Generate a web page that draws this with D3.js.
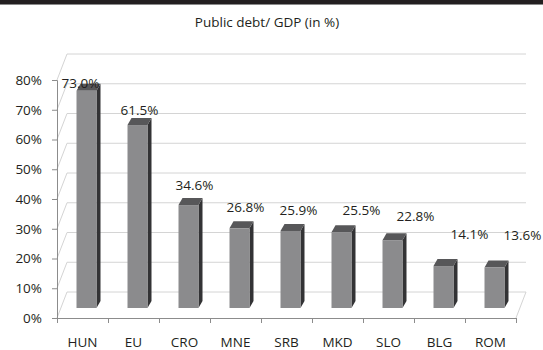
<!DOCTYPE html>
<meta charset="utf-8">
<style>
  body { margin: 0; background: #fff; }
  text { font-family: "Open Sans", "Noto Sans", sans-serif; fill: #231f20; }
</style>
<body>
<script src="https://cdnjs.cloudflare.com/ajax/libs/d3/7.8.5/d3.min.js"></script>
<script>

var categories = ["HUN", "EU", "CRO", "MNE", "SRB", "MKD", "SLO", "BLG", "ROM"];
var debt = [73.0, 61.5, 34.6, 26.8, 25.9, 25.5, 22.8, 14.1, 13.6];
var yTicks = [0, 10, 20, 30, 40, 50, 60, 70, 80];

// hand placed label offsets [dx, dy] from the top front edge of each column
var labelNudge = [[-6, -3], [2, -10], [6, -15], [6, -16], [8, -16], [20, -17], [23, -19], [26, -27], [28, -28]];

var width = 543,
    height = 350;

var svg = d3.select("body").append("svg")
    .attr("width", width)
    .attr("height", height);

// dark strip along the top edge
svg.append("rect").attr("x", 0).attr("y", 0).attr("width", width).attr("height", 4).attr("fill", "#231f20");
svg.append("rect").attr("x", 0).attr("y", 4).attr("width", width).attr("height", 1).attr("fill", "#8a8a8a");

svg.append("text")
    .attr("x", 267)
    .attr("y", 27)
    .attr("text-anchor", "middle")
    .style("font-size", "13.5px")
    .text("Public debt/ GDP (in %)");

var x = d3.scaleBand()
    .domain(categories)
    .range([57, 516]);

var y = d3.scaleLinear()
    .domain([0, 80])
    .range([318, 80]);

// depth of the box, and where the columns sit inside it
var depthX = 10, depthY = -26;
var barDX = 4, barDY = -10;
var barW = 20, sideW = 4, topH = 7;

var grid = svg.append("g")
    .attr("fill", "none")
    .attr("stroke", "#d4d4d4")
    .attr("stroke-width", 1);

// side wall diagonals and back wall gridlines
yTicks.forEach(function(t) {
    var yy = y(t);
    grid.append("path")
        .attr("d", "M" + x.range()[0] + "," + yy +
            "L" + (x.range()[0] + depthX) + "," + (yy + depthY) +
            "L" + (x.range()[1] + depthX) + "," + (yy + depthY));
});

// right edge of the floor
grid.append("path")
    .attr("d", "M" + x.range()[1] + "," + y(0) + "L" + (x.range()[1] + depthX) + "," + (y(0) + depthY));

// axes on the front edge
var axisColor = "#8c8c8c";

var yAxis = svg.append("g")
    .attr("transform", "translate(" + x.range()[0] + ",0)")
    .call(d3.axisLeft(y).tickValues(yTicks).tickSize(5).tickPadding(10)
        .tickFormat(function(d) { return d + "%"; }));

var xAxis = svg.append("g")
    .attr("transform", "translate(0," + y(0) + ")")
    .call(d3.axisBottom(x).tickSize(0).tickPadding(19));

// ticks at the category boundaries
var bounds = categories.map(function(c) { return x(c); }).concat([x.range()[1]]);
xAxis.selectAll(".bound")
    .data(bounds)
    .enter().append("line")
    .attr("class", "bound")
    .attr("x1", function(d) { return d + 0.5; })
    .attr("x2", function(d) { return d + 0.5; })
    .attr("y1", 0)
    .attr("y2", 5);

[yAxis, xAxis].forEach(function(a) {
    a.select(".domain").attr("stroke", axisColor);
    a.selectAll("line").attr("stroke", axisColor);
    a.selectAll("text").style("font-size", "13.5px").attr("fill", "#231f20");
});
xAxis.select(".domain").attr("d", "M" + x.range()[0] + ",0.5H" + x.range()[1]);

// columns
var bars = svg.append("g").selectAll("g")
    .data(debt)
    .enter().append("g");

function barLeft(d, i) {
    return x(categories[i]) + x.bandwidth() / 2 + barDX - barW / 2;
}

bars.append("path")
    .attr("fill", "#333335")
    .attr("d", function(d, i) {
        var l = barLeft(d, i) + barW, t = y(d) + barDY, b = y(0) + barDY;
        return "M" + l + "," + t + "L" + (l + sideW) + "," + (t - topH) +
            "L" + (l + sideW) + "," + (b - topH) + "L" + l + "," + b + "Z";
    });

bars.append("path")
    .attr("fill", "#575759")
    .attr("d", function(d, i) {
        var l = barLeft(d, i), t = y(d) + barDY;
        return "M" + l + "," + t + "L" + (l + sideW) + "," + (t - topH) +
            "L" + (l + barW + sideW) + "," + (t - topH) + "L" + (l + barW) + "," + t + "Z";
    });

bars.append("rect")
    .attr("fill", "#8b8b8d")
    .attr("x", function(d, i) { return barLeft(d, i); })
    .attr("y", function(d) { return y(d) + barDY; })
    .attr("width", barW)
    .attr("height", function(d) { return y(0) - y(d); });

// value labels
bars.append("text")
    .attr("text-anchor", "middle")
    .style("font-size", "13.5px")
    .attr("x", function(d, i) { return barLeft(d, i) + barW / 2 + labelNudge[i][0]; })
    .attr("y", function(d, i) { return y(d) + barDY + labelNudge[i][1]; })
    .text(function(d) { return d.toFixed(1) + "%"; });

</script>
